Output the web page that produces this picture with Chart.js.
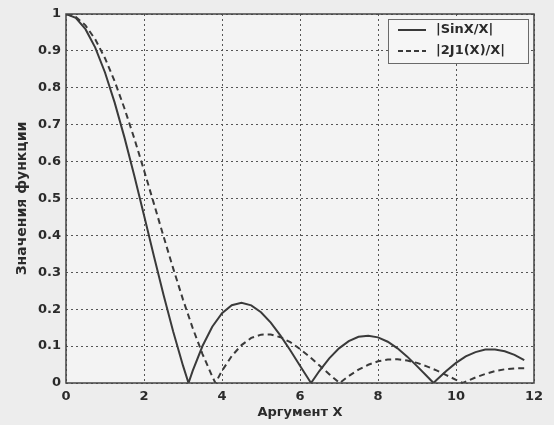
<!DOCTYPE html>
<html>
<head>
<meta charset="utf-8">
<script src="https://cdn.jsdelivr.net/npm/chart.js@4/dist/chart.umd.min.js"></script>
<style>
    html, body { margin: 0; padding: 0; background: #ededed; }
    #wrap { width: 554px; height: 425px; position: relative; }
</style>
</head>
<body>
<div id="wrap"><canvas id="grafico"></canvas></div>
<script>
// shared argument grid, step 0.25
const argumentos = [
    0, 0.25, 0.5, 0.75, 1, 1.25, 1.5, 1.75, 2, 2.25, 2.5, 2.75, 3, 3.25, 3.5, 3.75,
    4, 4.25, 4.5, 4.75, 5, 5.25, 5.5, 5.75, 6, 6.25, 6.5, 6.75, 7, 7.25, 7.5, 7.75,
    8, 8.25, 8.5, 8.75, 9, 9.25, 9.5, 9.75, 10, 10.25, 10.5, 10.75, 11, 11.25, 11.5, 11.75
];
const valoresSinc = [
    1, 0.9896, 0.9589, 0.9089, 0.8415, 0.7592, 0.665, 0.5623, 0.4546, 0.3458, 0.2394, 0.1388, 0.047, 0.0333, 0.1002, 0.1524,
    0.1892, 0.2106, 0.2172, 0.2104, 0.1918, 0.1636, 0.1283, 0.0887, 0.0466, 0.0053, 0.0331, 0.0667, 0.0939, 0.1135, 0.1251, 0.1283,
    0.1237, 0.1118, 0.0939, 0.0714, 0.0458, 0.0188, 0.0079, 0.0325, 0.0544, 0.072, 0.0838, 0.0906, 0.0909, 0.0862, 0.0761, 0.0617
];
const valoresBessel = [
    1, 0.9922, 0.9692, 0.9312, 0.8802, 0.817, 0.7439, 0.6631, 0.5767, 0.4875, 0.3977, 0.31, 0.2261, 0.1484, 0.0785, 0.0178,
    0.033, 0.0731, 0.1027, 0.1222, 0.131, 0.1314, 0.1241, 0.1106, 0.0922, 0.0706, 0.0473, 0.0238, 0.0013, 0.0189, 0.0361, 0.0494,
    0.0587, 0.0635, 0.0643, 0.061, 0.0545, 0.0452, 0.034, 0.0215, 0.0087, 0.0037, 0.015, 0.0246, 0.0321, 0.0372, 0.0397, 0.0397
];
// points where each curve touches zero
const zerosSinc = [3.1416, 6.2832, 9.4248];
const zerosBessel = [3.8317, 7.0156, 10.1735];

const ticksX = [0, 2, 4, 6, 8, 10, 12];
const legendas = ['|SinX/X|', '|2J1(X)/X|'];
const tituloX = 'Аргумент X';
const tituloY = 'Значения функции';

function montarSerie(valores, zeros) {
    const pontos = argumentos.map(function (x, i) {
        return { x: x, y: valores[i] };
    });
    zeros.forEach(function (x) {
        pontos.push({ x: x, y: 0 });
    });
    return pontos.sort(function (a, b) { return a.x - b.x; });
}

const corTexto = '#2b2b2b';
const corLinha = '#3a3a3a';
const familia = 'DejaVu Sans, Arial, sans-serif';
const fonteTicks = { family: familia, size: 13, weight: 'bold' };

const area = { left: 66, top: 14, right: 534, bottom: 383 };
const margemEsq = 14;

const molduraPlugin = {
    id: 'moldura',
    beforeDraw: function (chart) {
        const ctx = chart.ctx;
        const ca = chart.chartArea;
        ctx.save();
        ctx.fillStyle = '#f3f3f3';
        ctx.fillRect(ca.left, ca.top, ca.right - ca.left, ca.bottom - ca.top);
        ctx.restore();
    },
    afterDraw: function (chart) {
        const ctx = chart.ctx;
        const ca = chart.chartArea;
        ctx.save();
        ctx.strokeStyle = '#444';
        ctx.lineWidth = 1.5;
        ctx.strokeRect(ca.left, ca.top, ca.right - ca.left, ca.bottom - ca.top);

        // legend box in the upper right corner
        const lx = 388, ly = 19, lw = 140, lh = 44;
        ctx.fillStyle = '#f6f6f6';
        ctx.fillRect(lx, ly, lw, lh);
        ctx.strokeStyle = '#6a6a6a';
        ctx.lineWidth = 1;
        ctx.strokeRect(lx + 0.5, ly + 0.5, lw, lh);

        ctx.strokeStyle = corLinha;
        ctx.lineWidth = 2;
        ctx.beginPath();
        ctx.moveTo(398, 30);
        ctx.lineTo(426, 30);
        ctx.stroke();
        ctx.setLineDash([5, 3]);
        ctx.beginPath();
        ctx.moveTo(398, 51);
        ctx.lineTo(426, 51);
        ctx.stroke();
        ctx.setLineDash([]);

        ctx.fillStyle = corTexto;
        ctx.font = 'bold 13px ' + familia;
        ctx.textBaseline = 'middle';
        ctx.fillText(legendas[0], 436, 30);
        ctx.fillText(legendas[1], 436, 51);
        ctx.restore();
    }
};

new Chart(document.getElementById('grafico'), {
    type: 'line',
    data: {
        datasets: [{
            label: legendas[0],
            data: montarSerie(valoresSinc, zerosSinc),
            borderColor: corLinha,
            borderWidth: 2,
            pointRadius: 0,
            tension: 0
        }, {
            label: legendas[1],
            data: montarSerie(valoresBessel, zerosBessel),
            borderColor: corLinha,
            borderWidth: 2,
            borderDash: [6, 4],
            pointRadius: 0,
            tension: 0
        }]
    },
    options: {
        responsive: true,
        maintainAspectRatio: false,
        animation: false,
        layout: { padding: { left: margemEsq, top: area.top, right: 554 - area.right, bottom: 0 } },
        plugins: {
            legend: { display: false },
            tooltip: { enabled: false }
        },
        scales: {
            x: {
                type: 'linear',
                min: 0,
                max: 12,
                afterBuildTicks: function (scale) {
                    scale.ticks = ticksX.map(function (v) { return { value: v }; });
                },
                afterFit: function (scale) { scale.height = 425 - area.bottom; },
                grid: { color: '#555', lineWidth: 1, drawTicks: false },
                border: { display: false, dash: [2, 3] },
                ticks: { color: corTexto, font: fonteTicks, padding: 6, maxRotation: 0 },
                title: { display: true, text: tituloX, color: corTexto, font: { family: familia, size: 13, weight: 'bold' }, padding: { top: 0, bottom: 5 } }
            },
            y: {
                min: 0,
                max: 1,
                ticks: {
                    stepSize: 0.1,
                    color: corTexto,
                    font: fonteTicks,
                    padding: 5,
                    callback: function (v) { return String(Math.round(v * 10) / 10); }
                },
                afterFit: function (scale) { scale.width = area.left - margemEsq; },
                grid: { color: '#555', lineWidth: 1, drawTicks: false },
                border: { display: false, dash: [2, 3] },
                title: { display: true, text: tituloY, color: corTexto, font: { family: familia, size: 14, weight: 'bold' }, padding: { top: 0, bottom: 0 } }
            }
        }
    },
    plugins: [molduraPlugin]
});
</script>
</body>
</html>
